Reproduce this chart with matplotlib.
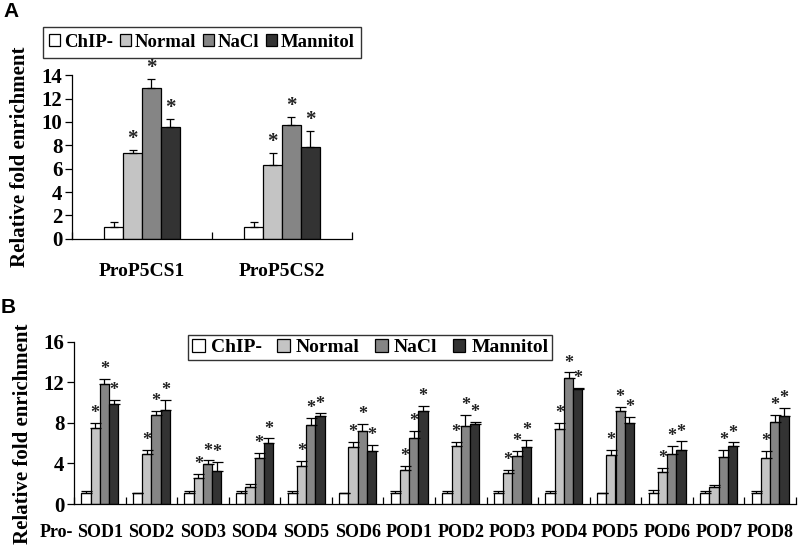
import matplotlib
matplotlib.use("Agg")
import matplotlib.pyplot as plt
import numpy as np
from matplotlib.patches import Patch

plt.rcParams['font.family'] = ['Liberation Serif', 'DejaVu Serif']
plt.rcParams['font.weight'] = 'bold'

series = ["ChIP-", "Normal", "NaCl", "Mannitol"]
colors = ["#ffffff", "#c4c4c4", "#858585", "#333333"]

# Panel A
catsA = ["ProP5CS1", "ProP5CS2"]
A_vals = {
    "ChIP-":    [1.0, 1.0],
    "Normal":   [7.35, 6.35],
    "NaCl":     [12.9, 9.75],
    "Mannitol": [9.6, 7.88],
}
A_err = {
    "ChIP-":    [0.4, 0.4],
    "Normal":   [0.25, 0.95],
    "NaCl":     [0.75, 0.65],
    "Mannitol": [0.68, 1.35],
}
A_star = {
    "ChIP-":    [False, False],
    "Normal":   [True, True],
    "NaCl":     [True, True],
    "Mannitol": [True, True],
}

# Panel B
catsB = ["SOD1", "SOD2", "SOD3", "SOD4", "SOD5", "SOD6", "POD1",
         "POD2", "POD3", "POD4", "POD5", "POD6", "POD7", "POD8"]
B_vals = {
    "ChIP-":    [1.04, 1.04, 1.04, 1.04, 1.04, 1.04, 1.04, 1.04, 1.04, 1.04, 1.04, 1.04, 1.04, 1.04],
    "Normal":   [7.54, 4.94, 2.57, 1.69, 3.74, 5.59, 3.32, 5.69, 3.02, 7.38, 4.85, 3.15, 1.66, 4.52],
    "NaCl":     [11.84, 8.75, 3.93, 4.52, 7.77, 7.15, 6.47, 7.67, 4.72, 12.42, 9.14, 4.94, 4.62, 8.07],
    "Mannitol": [9.82, 9.24, 3.22, 6.02, 8.65, 5.2, 9.14, 7.87, 5.59, 11.38, 7.97, 5.33, 5.69, 8.68],
}
B_err = {
    "ChIP-":    [0.23, 0.0, 0.23, 0.23, 0.23, 0.06, 0.23, 0.23, 0.23, 0.23, 0.0, 0.33, 0.23, 0.23],
    "Normal":   [0.49, 0.36, 0.36, 0.33, 0.49, 0.56, 0.42, 0.46, 0.33, 0.65, 0.45, 0.39, 0.23, 0.68],
    "NaCl":     [0.49, 0.39, 0.36, 0.52, 0.75, 0.78, 0.72, 1.08, 0.48, 0.56, 0.42, 0.75, 0.68, 0.68],
    "Mannitol": [0.42, 1.06, 0.91, 0.45, 0.29, 0.65, 0.52, 0.23, 0.69, 0.07, 0.62, 0.85, 0.39, 0.78],
}
B_star = {
    "ChIP-":    [False] * 14,
    "Normal":   [True, True, True, False, True, True, True, True, True, True, True, True, False, True],
    "NaCl":     [True] * 14,
    "Mannitol": [True] * 14,
}

fig = plt.figure(figsize=(8, 5.47), dpi=100)


def draw_panel(ax, cats, vals, errs, stars, width, ymax, yticks, star_fs, star_off):
    x = np.arange(len(cats))
    n = len(series)
    for i, s in enumerate(series):
        pos = x + (i - (n - 1) / 2) * width
        v = np.array(vals[s])
        e = np.array(errs[s])
        ax.bar(pos, v, width, color=colors[i], edgecolor='black', linewidth=0.9, zorder=2)
        ax.errorbar(pos, v, yerr=[np.zeros_like(e), e], fmt='none', ecolor='black',
                    elinewidth=0.9, capsize=width * 22, capthick=0.9, zorder=3)
        for p, vv, ee, st in zip(pos, v, e, stars[s]):
            if st:
                ax.text(p, vv + ee + star_off, "*", ha='center', va='bottom',
                        fontsize=star_fs, color='#222222', clip_on=False, zorder=4)
    ax.set_xlim(-0.5, len(cats) - 0.5)
    ax.set_ylim(0, ymax)
    ax.set_yticks(yticks)
    ax.set_xticks(np.arange(len(cats) + 1) - 0.5, minor=False)
    ax.set_xticklabels([])
    ax.tick_params(axis='x', direction='in', length=5, width=0.9)
    ax.tick_params(axis='y', direction='out', length=5, width=0.9)
    for sp in ['top', 'right']:
        ax.spines[sp].set_visible(False)
    ax.spines['left'].set_linewidth(0.9)
    ax.spines['bottom'].set_linewidth(0.9)
    return x


# Panel A
axA = fig.add_axes([0.09, 0.5636, 0.35, 0.2988])
xA = draw_panel(axA, catsA, A_vals, A_err, A_star, 0.135, 14, np.arange(0, 15, 2), 15, 0.1)
axA.tick_params(axis='y', labelsize=15, pad=2)
for xi, c in zip(xA, catsA):
    axA.text(xi, -2.1, c, ha='center', va='top', fontsize=14, fontweight='bold')
axA.set_ylabel("Relative fold enrichment", fontsize=15, fontweight='bold')
axA.yaxis.set_label_coords(-0.15, 0.5)

# Panel B
axB = fig.add_axes([0.0925, 0.0786, 0.9025, 0.2967])
xB = draw_panel(axB, catsB, B_vals, B_err, B_star, 0.18, 16, np.arange(0, 17, 4), 13, 0.08)
axB.tick_params(axis='y', labelsize=15, pad=2)
for xi, c in zip(xB, catsB):
    axB.text(xi, -2.0, c, ha='center', va='top', fontsize=13, fontweight='bold')
axB.text(-0.52, -2.0, "Pro-", ha='right', va='top', fontsize=13, fontweight='bold')
axB.set_ylabel("Relative fold enrichment", fontsize=15, fontweight='bold')
axB.yaxis.set_label_coords(-0.057, 0.43)

# Legends
handles = [Patch(facecolor=colors[i], edgecolor='black', linewidth=0.9, label=s)
           for i, s in enumerate(series)]
legA = fig.legend(handles=handles, loc='center', bbox_to_anchor=(0.2525, 0.9223), ncol=4,
                  frameon=True, fancybox=False, edgecolor='black',
                  handlelength=0.6, handleheight=0.6, handletextpad=0.2, columnspacing=0.35,
                  borderpad=0.35, borderaxespad=0, prop={'weight': 'bold', 'size': 13.5})
legA.get_frame().set_linewidth(1.0)
legB = fig.legend(handles=handles, loc='center', bbox_to_anchor=(0.463, 0.3647), ncol=4,
                  frameon=True, fancybox=False, edgecolor='black',
                  handlelength=0.65, handleheight=0.65, handletextpad=0.3, columnspacing=0.8,
                  borderpad=0.2, borderaxespad=0, prop={'weight': 'bold', 'size': 14})
legB.get_frame().set_linewidth(1.0)

fig.text(0.004, 0.997, "A", fontsize=15, fontweight='bold', family='Liberation Sans', va='top')
fig.text(0.001, 0.456, "B", fontsize=15, fontweight='bold', family='Liberation Sans', va='top')

fig.savefig("out.png", dpi=100)
